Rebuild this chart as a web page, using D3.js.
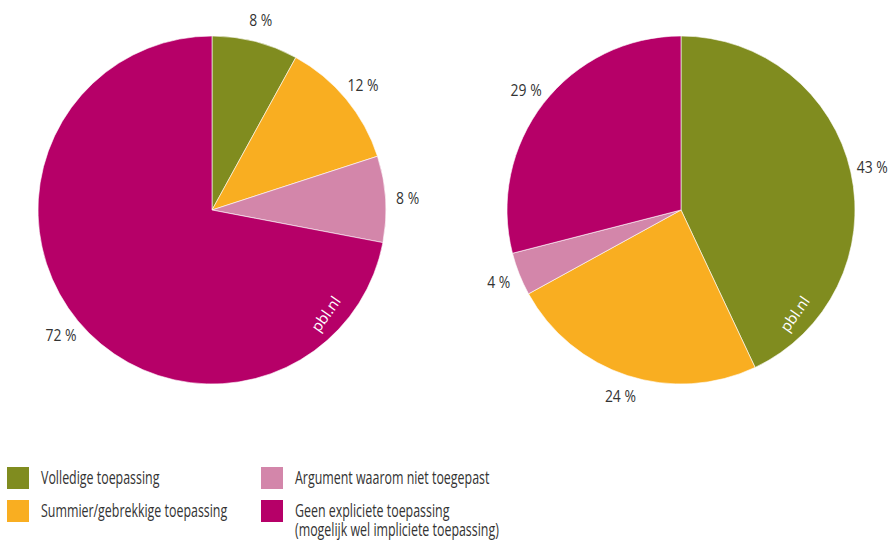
<!DOCTYPE html>
<head>
<meta charset="utf-8">
<title>Toepassing</title>
<style>
body { margin: 0; background: #fff; }
text { font-family: "Open Sans", "Noto Sans", sans-serif; fill: #333; }
</style>
</head>
<body>
<script src="https://d3js.org/d3.v7.min.js"></script>
<script>
// categorieen en waarden
var categorieen = ["Volledige toepassing", "Summier/gebrekkige toepassing", "Argument waarom niet toegepast", "Geen expliciete toepassing"];
var legendaTeksten = [["Volledige toepassing"], ["Summier/gebrekkige toepassing"], ["Argument waarom niet toegepast"], ["Geen expliciete toepassing", "(mogelijk wel impliciete toepassing)"]];
var kleuren = ["#808c1f", "#f9ae21", "#d386aa", "#b60068"];
var waardenLinks = [8, 12, 8, 72];
var waardenRechts = [43, 24, 4, 29];

var width = 896, height = 543;
var straal = 174;
var smalLabel = 0.82; // horizontale compressie van de letters
var smalLegenda = 0.71;

var svg = d3.select('body').append('svg')
  .attr('width', width)
  .attr('height', height);

var kleur = d3.scaleOrdinal().domain(categorieen).range(kleuren);
var pie = d3.pie().sort(null).value(function(d) { return d.v; });
var arc = d3.arc().innerRadius(0).outerRadius(straal);
var labelArc = d3.arc().innerRadius(196).outerRadius(196);

function taart(waarden, cx, cy) {
  var data = waarden.map(function(v, i) { return {cat: categorieen[i], v: v}; });
  var g = svg.append('g').attr('transform', 'translate(' + cx + ',' + cy + ')');
  var stukken = pie(data);
  g.selectAll('path')
    .data(stukken)
    .enter()
    .append('path')
    .attr('d', arc)
    .attr('fill', function(d) { return kleur(d.data.cat); })
    .attr('stroke', '#fff')
    .attr('stroke-width', 0.6);
  g.selectAll('text.lab')
    .data(stukken)
    .enter()
    .append('text')
    .attr('class', 'lab')
    .attr('transform', function(d) { return 'translate(' + labelArc.centroid(d) + ') scale(' + smalLabel + ',1)'; })
    .attr('text-anchor', 'middle')
    .attr('dy', '0.35em')
    .style('font-size', '17px')
    .text(function(d) { return d.data.v + ' %'; });
  // watermerk
  g.append('text')
    .attr('transform', 'translate(114,104) rotate(-55)')
    .attr('text-anchor', 'middle')
    .attr('dy', '0.35em')
    .style('font-size', '15px')
    .style('fill', '#fff')
    .text('pbl.nl');
}

taart(waardenLinks, 212, 210);
taart(waardenRechts, 681, 210);

// legenda
var legX = [7, 7, 261, 261];
var legY = [467, 500, 467, 500];
var leg = svg.selectAll('g.leg')
  .data(categorieen)
  .enter()
  .append('g')
  .attr('class', 'leg')
  .attr('transform', function(d, i) { return 'translate(' + legX[i] + ',' + legY[i] + ')'; });
leg.append('rect')
  .attr('width', 22)
  .attr('height', 22)
  .attr('fill', function(d) { return kleur(d); });
leg.append('text')
  .attr('transform', 'translate(34,17) scale(' + smalLegenda + ',1)')
  .style('font-size', '17.5px')
  .selectAll('tspan')
  .data(function(d, i) { return legendaTeksten[i]; })
  .enter()
  .append('tspan')
  .attr('x', 0)
  .attr('y', function(d, j) { return j * 19.5; })
  .text(function(d) { return d; });
</script>
</body>
</html>
